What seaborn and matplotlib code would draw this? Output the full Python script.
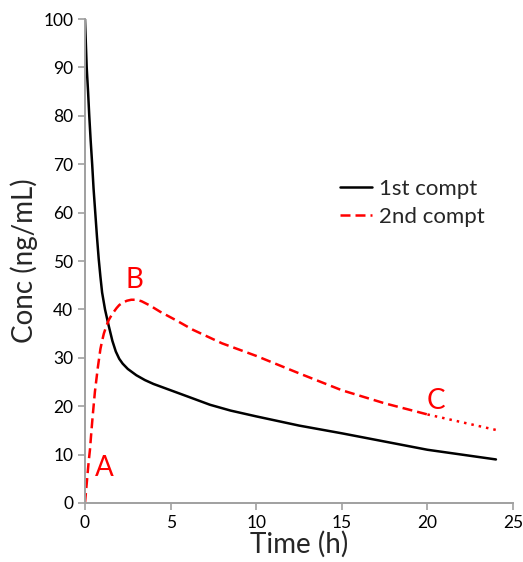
import pandas as pd
import matplotlib.pyplot as plt
import seaborn as sns

# Concentration-time values
time_1st = [0, 0.05, 0.1, 0.18, 0.25, 0.33, 0.42, 0.5, 0.6, 0.7, 0.8, 0.9, 1.0, 1.17,
            1.36, 1.6, 1.8, 2.0, 2.2, 2.5, 3.0, 3.5, 4.0, 5.0, 6.0, 7.3, 8.5, 10.0,
            12.5, 15.0, 17.5, 20.0, 22.0, 24.0]
conc_1st = [100, 95, 90, 85, 80, 75, 70, 65, 60, 55, 50.5, 46.8, 43.5, 40,
            37, 33.5, 31.3, 29.8, 28.8, 27.7, 26.4, 25.4, 24.6, 23.3, 22.0, 20.3, 19.1, 17.9,
            16.0, 14.4, 12.7, 11.0, 10.0, 9.0]

time_2nd = [0, 0.08, 0.15, 0.22, 0.29, 0.37, 0.45, 0.58, 0.75, 0.9, 1.0, 1.1, 1.25,
            1.4, 1.6, 1.85, 2.0, 2.2, 2.45, 2.7, 3.0, 3.3, 3.8, 4.4, 5.3, 6.3, 8.0,
            10.0, 12.5, 15.0, 17.5, 20.0, 22.0, 24.0]
conc_2nd = [0, 3.2, 6, 8.7, 11, 14.6, 18, 23, 28, 31.8, 33.5, 35, 36.6,
            37.9, 39.1, 40.3, 40.9, 41.4, 41.8, 42, 42, 41.7, 40.8, 39.5, 37.8, 35.8, 33,
            30.4, 26.8, 23.3, 20.6, 18.3, 16.7, 15.1]

labels = ["A", "B", "C"]
label_t = [1.1, 2.9, 20.5]
label_c = [7.2, 46, 21]

df1 = pd.DataFrame({"Time": time_1st, "Conc": conc_1st})
df2 = pd.DataFrame({"Time": time_2nd, "Conc": conc_2nd})
df2_dash = df2[df2["Time"] <= 20]
df2_dot = df2[df2["Time"] >= 20]

sns.set_style("ticks")
plt.rcParams["font.family"] = ["Lato", "DejaVu Sans"]

fig = plt.figure(figsize=(5.23, 5.62), dpi=100)
ax = fig.add_axes([0.1625, 0.105, 0.8185, 0.861])

sns.lineplot(data=df1, x="Time", y="Conc", color="black", linewidth=1.8,
             ax=ax, label="1st compt", sort=False)
sns.lineplot(data=df2_dash, x="Time", y="Conc", color="#FF0000", linewidth=1.8,
             linestyle=(0, (4, 2)), ax=ax, label="2nd compt", sort=False)
sns.lineplot(data=df2_dot, x="Time", y="Conc", color="#FF0000", linewidth=1.8,
             linestyle=(0, (1, 2)), ax=ax, sort=False)

for lab, t, c in zip(labels, label_t, label_c):
    ax.text(t, c, lab, color="#FF0000", fontsize=20, ha="center", va="center")

ax.set_xlim(0, 25)
ax.set_ylim(0, 100)
ax.set_xticks(range(0, 26, 5))
ax.set_yticks(range(0, 101, 10))
ax.tick_params(axis="both", labelsize=12.5, colors="#A0A0A0", labelcolor="black",
               length=5, width=1.2)
for side in ["top", "right"]:
    ax.spines[side].set_visible(False)
for side in ["left", "bottom"]:
    ax.spines[side].set_color("#A0A0A0")
    ax.spines[side].set_linewidth(1.4)

ax.set_xlabel("Time (h)", fontsize=20, labelpad=0)
ax.set_ylabel("Conc (ng/mL)", fontsize=20, labelpad=4)

ax.legend(loc="upper left", bbox_to_anchor=(0.57, 0.693), frameon=False,
          fontsize=16, handlelength=1.45, handletextpad=0.3, borderpad=0,
          labelspacing=0.35)

plt.savefig("out.png", dpi=100)
